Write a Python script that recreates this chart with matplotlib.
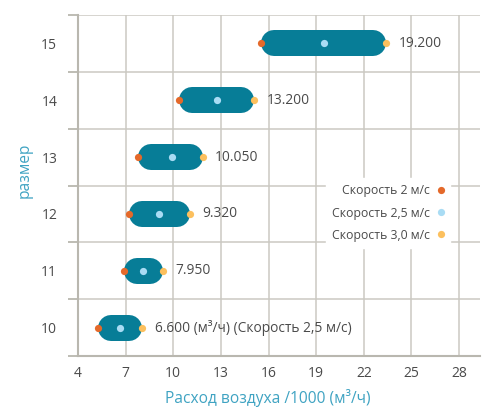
import matplotlib
matplotlib.use("Agg")
import matplotlib.pyplot as plt
from matplotlib.lines import Line2D

plt.rcParams['font.family'] = ['Open Sans', 'DejaVu Sans']

sizes = [10, 11, 12, 13, 14, 15]
v2 = [5.25, 6.9, 7.2, 7.8, 10.35, 15.5]      # speed 2 m/s
v25 = [6.65, 8.1, 9.1, 9.95, 12.75, 19.5]    # speed 2.5 m/s
v3 = [8.05, 9.35, 11.05, 11.85, 15.1, 23.4]  # speed 3.0 m/s
value_labels = ["6.600 (м³/ч) (Скорость 2,5 м/с)", "7.950", "9.320",
                "10.050", "13.200", "19.200"]
xticks = [4, 7, 10, 13, 16, 19, 22, 25, 28]
legend_labels = ["Скорость 2 м/с", "Скорость 2,5 м/с", "Скорость 3,0 м/с"]

c_bar = "#077d97"
c_2 = "#e4692a"
c_25 = "#a9dcf4"
c_3 = "#fcc05e"
c_grid = "#cbc9c2"
c_axis = "#b9b7af"
c_text = "#4a4a4a"
c_label = "#3fa3c2"

W, H = 486, 408
fig = plt.figure(figsize=(W / 100, H / 100), dpi=100)
ax = fig.add_axes([78 / W, 1 - 356 / H, 402 / W, 341 / H])
ax.set_xlim(4, 29.32)
ax.set_ylim(9.5, 15.5)

# pixel scale for capsule ends
fig.canvas.draw()
sx = ax.transData.transform((1, 0))[0] - ax.transData.transform((0, 0))[0]
cap_px = 26
rx = (cap_px / 2) / sx
lw_pt = cap_px * 72 / fig.dpi

for y, a, m, b, lab in zip(sizes, v2, v25, v3, value_labels):
    ax.plot([a + rx, b - rx], [y, y], color=c_bar, lw=lw_pt,
            solid_capstyle='round', zorder=3)
    ax.plot([a], [y], 'o', color=c_2, ms=5.2, mew=0, zorder=4)
    ax.plot([m], [y], 'o', color=c_25, ms=5.2, mew=0, zorder=4)
    ax.plot([b], [y], 'o', color=c_3, ms=5.2, mew=0, zorder=4)
    ax.annotate(lab, (b, y), xytext=(9, 0), textcoords='offset points',
                va='center', ha='left', fontsize=9.9, color=c_text, zorder=5)

ax.set_xticks(xticks)
ax.set_xticklabels([str(t) for t in xticks])
ax.set_yticks(sizes)
ax.set_yticklabels([str(s) for s in sizes])
ax.set_yticks([s - 0.5 for s in sizes] + [15.5], minor=True)
ax.tick_params(axis='x', length=0, pad=7, labelsize=10, labelcolor=c_text)
ax.tick_params(axis='y', which='major', length=0, pad=15, labelsize=10,
               labelcolor=c_text)
ax.tick_params(axis='y', which='minor', length=7.5, width=1.3, color=c_axis)
ax.grid(axis='x', which='major', color=c_grid, lw=1.1, zorder=0)
ax.grid(axis='y', which='minor', color=c_grid, lw=1.1, zorder=0)
ax.set_axisbelow(True)
for s in ['top', 'right']:
    ax.spines[s].set_visible(False)
for s in ['left', 'bottom']:
    ax.spines[s].set_color(c_axis)
    ax.spines[s].set_linewidth(1.5)

handles = [Line2D([], [], marker='o', ls='none', color=c, ms=5.2, mew=0)
           for c in (c_2, c_25, c_3)]
leg = ax.legend(handles, legend_labels, markerfirst=False, frameon=True,
                loc='center', bbox_to_anchor=(388 / W, 1 - 213 / H),
                bbox_transform=fig.transFigure, fontsize=8.8,
                handlelength=0.6, handletextpad=0.6, labelspacing=0.75,
                borderpad=0.5, fancybox=False)
leg.get_frame().set_facecolor('white')
leg.get_frame().set_edgecolor('white')
leg.get_frame().set_alpha(1)
for t in leg.get_texts():
    t.set_color(c_text)

fig.text(268 / W, 1 - 398 / H, "Расход воздуха /1000 (м³/ч)", ha='center',
         va='center', fontsize=11.2, color=c_label)
fig.text(25 / W, 1 - 170 / H, "размер", ha='center', va='center',
         rotation=90, fontsize=11.2, color=c_label)

fig.savefig("out.png", dpi=100)
